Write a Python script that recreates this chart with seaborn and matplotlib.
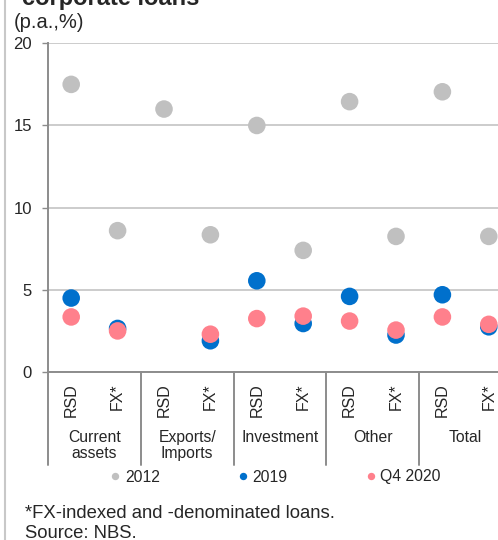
import numpy as np
import pandas as pd
import matplotlib
matplotlib.use("Agg")
import matplotlib.pyplot as plt
import matplotlib.transforms as mtransforms
from matplotlib.lines import Line2D
import seaborn as sns

# Loan purposes and currency split
groups = ["Current\nassets", "Exports/\nImports", "Investment", "Other", "Total"]
currencies = ["RSD", "FX*"]
periods = ["2012", "2019", "Q4 2020"]

# Interest rates (p.a., %), order: RSD, FX* for each purpose
rates_2012 = [17.5, 8.6, 16.0, 8.35, 15.0, 7.4, 16.45, 8.25, 17.05, 8.25]
rates_2019 = [4.5, 2.65, np.nan, 1.9, 5.55, 2.95, 4.6, 2.25, 4.7, 2.75]
rates_q4_2020 = [3.35, 2.5, np.nan, 2.3, 3.25, 3.4, 3.1, 2.55, 3.35, 2.9]

colors = {"2012": "#C0C0C0", "2019": "#0070CC", "Q4 2020": "#FF808C"}

sns.set_style("white")
plt.rcParams["font.family"] = ["Liberation Sans", "DejaVu Sans"]

loans = [f"{g.replace(chr(10), ' ')} {c}" for g in groups for c in currencies]
rows = []
for period, vals in zip(periods, [rates_2012, rates_2019, rates_q4_2020]):
    for loan, v in zip(loans, vals):
        rows.append({"loan": loan, "rate": v, "period": period})
df = pd.DataFrame(rows)

fig = plt.figure(figsize=(4.98, 5.40), dpi=100)
W, H = 498, 540
ax_left, ax_right, ax_top, ax_bottom = 48, 512, 43.3, 372
ax = fig.add_axes([ax_left / W, 1 - ax_bottom / H,
                   (ax_right - ax_left) / W, (ax_bottom - ax_top) / H])

sns.scatterplot(data=df, x="loan", y="rate", hue="period", hue_order=periods,
                palette=colors, s=160, linewidth=0, ax=ax, zorder=3)

axis_grey = "#8C8C8C"
grid_grey = "#C4C4C4"

ax.set_xlim(-0.5, len(loans) - 0.5)
ax.set_ylim(0, 20)
ax.set_yticks([0, 5, 10, 15, 20])
ax.set_xticks(range(len(loans)))
ax.set_xticklabels(currencies * len(groups), rotation=90, fontsize=11.5)
ax.set_xlabel("")
ax.set_ylabel("")
ax.tick_params(axis="x", length=0, pad=8)
ax.tick_params(axis="y", length=4, width=1, color=axis_grey, pad=7.5,
               labelsize=12, direction="out", left=True)
ax.yaxis.grid(True, color=grid_grey, linewidth=1.2, zorder=0)
ax.set_axisbelow(True)
for side in ["top", "right"]:
    ax.spines[side].set_visible(False)
for side in ["left", "bottom"]:
    ax.spines[side].set_color(axis_grey)
    ax.spines[side].set_linewidth(1.4)

# Group separators below the axis
trans = mtransforms.blended_transform_factory(ax.transData, ax.transAxes)
sep_depth = -(465 - ax_bottom) / (ax_bottom - ax_top)
for xb in [-0.5, 1.5, 3.5, 5.5, 7.5, 9.5]:
    ax.add_line(Line2D([xb, xb], [0, sep_depth], transform=trans,
                       color=axis_grey, linewidth=1.4, clip_on=False))

label_top = -(430 - ax_bottom) / (ax_bottom - ax_top)
for i, g in enumerate(groups):
    ax.text(2 * i + 0.5, label_top, g, transform=trans, ha="center", va="top",
            fontsize=11.3, linespacing=1.12)

sns.move_legend(ax, "center", bbox_to_anchor=(276 / W, 1 - 477 / H),
                bbox_transform=fig.transFigure, ncol=3, frameon=False,
                title=None, fontsize=11.3, markerscale=0.42, handlelength=0.5,
                handletextpad=0.35, columnspacing=5.05)

# Titles and notes
fig.text(22 / W, 1 - 5 / H, "corporate loans", fontsize=17, fontweight="bold",
         ha="left", va="baseline")
fig.text(14 / W, 1 - 28 / H, "(p.a.,%)", fontsize=14.5, ha="left", va="baseline")
fig.text(25 / W, 1 - 518 / H, "*FX-indexed and -denominated loans.",
         fontsize=13.3, ha="left", va="baseline")
fig.text(25 / W, 1 - 538 / H, "Source: NBS.", fontsize=13.3, ha="left",
         va="baseline")

# Frame line at the left edge
fig.add_artist(Line2D([4.5 / W, 4.5 / W], [0, 1], transform=fig.transFigure,
                      color="#C8C8C8", linewidth=1.5))

fig.savefig("out.png", dpi=100)
